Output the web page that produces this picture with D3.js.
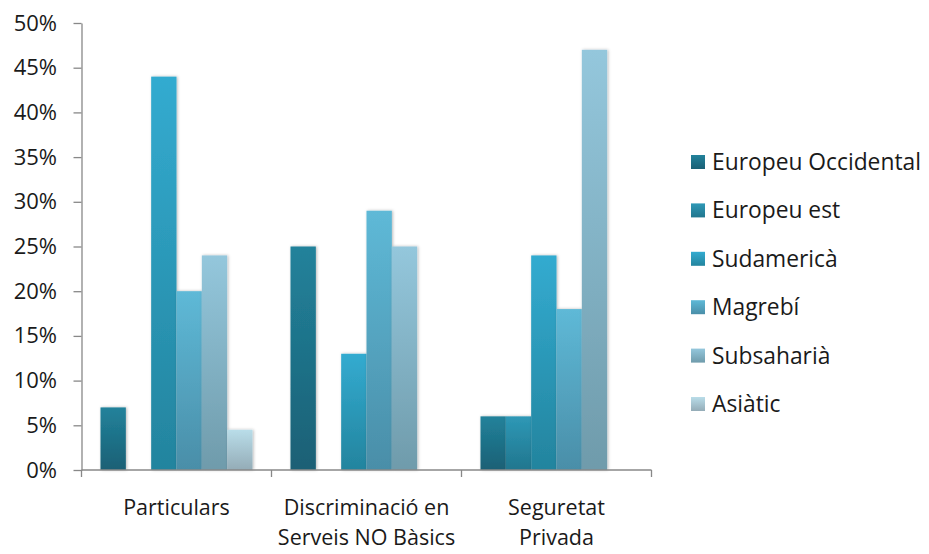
<!DOCTYPE html>
<html>
<head>
<meta charset="utf-8">
<script src="https://cdn.jsdelivr.net/npm/d3@7/dist/d3.min.js"></script>
<style>
  html, body { margin: 0; padding: 0; background: #fff; }
  svg { display: block; font-family: "Open Sans", sans-serif; }
</style>
</head>
<body>
<svg id="chart" width="929" height="554"></svg>
<script>
// ---- data ----
const categories = ["Particulars", "Discriminació en\nServeis NO Bàsics", "Seguretat\nPrivada"];
const seriesNames = ["Europeu Occidental", "Europeu est", "Sudamericà", "Magrebí", "Subsaharià", "Asiàtic"];
const europeuOccidental = [0.07, 0.25, 0.06];
const europeuEst        = [0.00, 0.00, 0.06];
const sudamerica        = [0.44, 0.13, 0.24];
const magrebi           = [0.20, 0.29, 0.18];
const subsaharia        = [0.24, 0.25, 0.47];
const asiatic           = [0.045, 0.00, 0.00];
const seriesValues = [europeuOccidental, europeuEst, sudamerica, magrebi, subsaharia, asiatic];
const yTicks = [0, 0.05, 0.10, 0.15, 0.20, 0.25, 0.30, 0.35, 0.40, 0.45, 0.50];

// colours (top, bottom of gradient)
const topColors    = ["#22829b", "#2e98b6", "#33abd0", "#5eb9d7", "#94c7dc", "#b9dde9"];
const bottomColors = ["#1a6075", "#21768e", "#23849e", "#4a8ea8", "#6f9bab", "#94acb7"];

const svg = d3.select("#chart");
const defs = svg.append("defs");
seriesNames.forEach((s, i) => {
  const g = defs.append("linearGradient").attr("id", "grad" + i)
    .attr("x1", 0).attr("y1", 0).attr("x2", 0).attr("y2", 1);
  g.append("stop").attr("offset", "0%").attr("stop-color", topColors[i]);
  g.append("stop").attr("offset", "100%").attr("stop-color", bottomColors[i]);
});
const f = defs.append("filter").attr("id", "shadow")
  .attr("x", "-30%").attr("y", "-10%").attr("width", "160%").attr("height", "120%");
f.append("feDropShadow").attr("dx", 1).attr("dy", 0).attr("stdDeviation", 1.6)
  .attr("flood-color", "#000").attr("flood-opacity", 0.28);

const plotLeft = 81.5, plotRight = 651.5, plotTop = 23, plotBottom = 470;

const x = d3.scaleBand().domain(categories).range([plotLeft, plotRight]).paddingInner(0).paddingOuter(0);
const xs = d3.scaleBand().domain(seriesNames).range([19, x.bandwidth() - 19]).padding(0);
const y = d3.scaleLinear().domain([0, 0.5]).range([plotBottom, plotTop]);

// bars
const groups = svg.append("g").selectAll("g").data(categories).join("g")
  .attr("transform", d => `translate(${x(d)},0)`);
groups.each(function(cat, ci) {
  const data = seriesNames.map((s, si) => ({ s, si, v: seriesValues[si][ci] })).filter(d => d.v > 0);
  d3.select(this).selectAll("rect").data(data).join("rect")
    .attr("x", d => xs(d.s))
    .attr("y", d => y(d.v))
    .attr("width", xs.bandwidth())
    .attr("height", d => y(0) - y(d.v))
    .attr("fill", d => `url(#grad${d.si})`)
    .attr("filter", "url(#shadow)");
});

const textColor = "#1a1a1a";

// y axis
const yAxis = svg.append("g").attr("transform", `translate(${plotLeft},0)`)
  .call(d3.axisLeft(y).tickValues(yTicks).tickFormat(d3.format(".0%")).tickSize(8).tickPadding(16.5).tickSizeOuter(0));
yAxis.select(".domain").attr("stroke", "#888").attr("stroke-width", 1.3);
yAxis.selectAll(".tick line").attr("stroke", "#888").attr("stroke-width", 1.3);
yAxis.selectAll(".tick text").attr("fill", textColor).style("font-size", "22px")
  .style("font-family", "'Open Sans', sans-serif");

// x axis
const xAxis = svg.append("g").attr("transform", `translate(0,${plotBottom})`);
xAxis.append("line").attr("x1", plotLeft).attr("x2", plotRight).attr("y1", 0).attr("y2", 0)
  .attr("stroke", "#888").attr("stroke-width", 1.3);
const bounds = categories.map(c => x(c)).concat([x(categories[categories.length - 1]) + x.bandwidth()]);
xAxis.selectAll("line.tk").data(bounds).join("line").attr("class", "tk")
  .attr("x1", d => d).attr("x2", d => d).attr("y1", 0).attr("y2", 7)
  .attr("stroke", "#888").attr("stroke-width", 1.3);
xAxis.selectAll("text.cat").data(categories).join("text").attr("class", "cat")
  .attr("text-anchor", "middle").attr("fill", textColor).style("font-size", "21.5px")
  .attr("transform", d => `translate(${x(d) + x.bandwidth() / 2},0)`)
  .each(function(d) {
    const lines = d.split("\n");
    d3.select(this).selectAll("tspan").data(lines).join("tspan")
      .attr("x", 0).attr("y", (l, i) => 44.5 + i * 30).text(l => l);
  });

// legend
const legend = svg.append("g");
const rowY = i => 162 + i * 48.4;
seriesNames.forEach((s, i) => {
  legend.append("rect").attr("x", 691).attr("y", rowY(i) - 7).attr("width", 14).attr("height", 14)
    .attr("fill", `url(#grad${i})`);
  legend.append("text").attr("x", 712).attr("y", rowY(i)).attr("dy", "0.35em")
    .attr("fill", textColor).style("font-size", "22.8px").text(s);
});
</script>
</body>
</html>
